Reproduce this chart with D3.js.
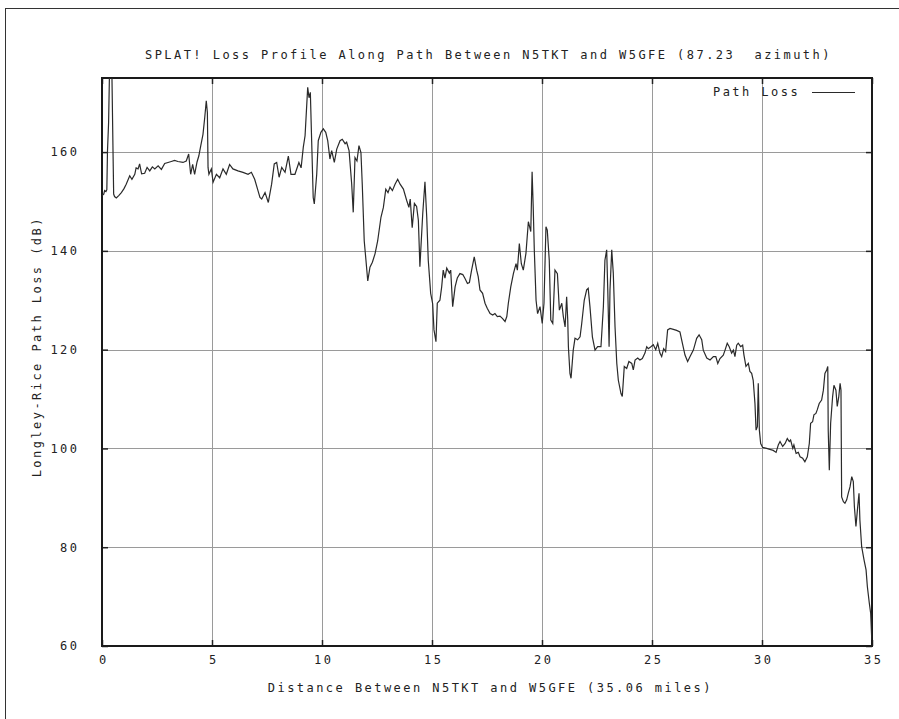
<!DOCTYPE html>
<html>
<head>
<meta charset="utf-8">
<script src="https://cdn.jsdelivr.net/npm/d3@7/dist/d3.min.js"></script>
<style>
  html, body { margin: 0; padding: 0; background: #fff; }
  svg text { font-family: "DejaVu Sans Mono", monospace; font-size: 12px; fill: #222; letter-spacing: 2.45px; white-space: pre; }
</style>
</head>
<body>
<svg id="chart" width="899" height="719"></svg>
<script>
// path loss profile
const distance = [
  0.00, 0.08, 0.12, 0.18, 0.22, 0.25, 0.30, 0.34, 0.40, 0.45, 0.50, 0.53, 0.57, 0.65, 0.76, 0.88,
  1.00, 1.10, 1.26, 1.36, 1.49, 1.55, 1.64, 1.71, 1.80, 1.94, 2.05, 2.17, 2.29, 2.40, 2.55, 2.70,
  2.85, 3.00, 3.15, 3.30, 3.45, 3.68, 3.83, 3.94, 4.03, 4.12, 4.21, 4.32, 4.40, 4.49, 4.59, 4.67,
  4.74, 4.79, 4.82, 4.86, 4.97, 5.05, 5.20, 5.35, 5.50, 5.65, 5.80, 5.95, 6.18, 6.41, 6.64, 6.79,
  6.94, 7.09, 7.18, 7.26, 7.41, 7.56, 7.71, 7.83, 7.94, 8.05, 8.17, 8.32, 8.47, 8.59, 8.77, 8.95,
  9.05, 9.15, 9.23, 9.35, 9.41, 9.47, 9.53, 9.60, 9.65, 9.76, 9.83, 9.95, 10.06, 10.17, 10.26, 10.36,
  10.44, 10.56, 10.67, 10.82, 10.92, 11.05, 11.12, 11.23, 11.35, 11.42, 11.50, 11.59, 11.68, 11.77, 11.83, 11.92,
  12.00, 12.08, 12.18, 12.29, 12.41, 12.53, 12.68, 12.79, 12.90, 13.00, 13.09, 13.20, 13.32, 13.44, 13.55, 13.70,
  13.85, 13.95, 14.01, 14.10, 14.20, 14.30, 14.38, 14.45, 14.58, 14.68, 14.76, 14.83, 14.94, 15.03, 15.09, 15.18,
  15.24, 15.36, 15.44, 15.51, 15.59, 15.67, 15.79, 15.85, 15.94, 16.05, 16.15, 16.27, 16.40, 16.50, 16.61, 16.70,
  16.80, 16.92, 17.03, 17.10, 17.18, 17.30, 17.41, 17.51, 17.64, 17.76, 17.86, 17.97, 18.09, 18.21, 18.32, 18.40,
  18.47, 18.58, 18.70, 18.82, 18.88, 18.97, 19.06, 19.15, 19.27, 19.38, 19.49, 19.55, 19.60, 19.65, 19.73, 19.80,
  19.91, 20.01, 20.09, 20.18, 20.24, 20.33, 20.40, 20.49, 20.59, 20.70, 20.79, 20.90, 20.97, 21.05, 21.12, 21.17,
  21.20, 21.27, 21.32, 21.42, 21.50, 21.62, 21.73, 21.80, 21.92, 22.03, 22.10, 22.18, 22.29, 22.41, 22.53, 22.68,
  22.79, 22.86, 22.94, 22.99, 23.05, 23.09, 23.17, 23.24, 23.32, 23.40, 23.47, 23.59, 23.65, 23.74, 23.85, 23.95,
  24.08, 24.15, 24.23, 24.35, 24.45, 24.56, 24.68, 24.76, 24.83, 24.95, 25.06, 25.17, 25.26, 25.36, 25.44, 25.53,
  25.62, 25.71, 25.82, 25.97, 26.12, 26.27, 26.38, 26.50, 26.62, 26.73, 26.88, 27.03, 27.14, 27.26, 27.33, 27.49,
  27.64, 27.79, 27.90, 27.99, 28.09, 28.24, 28.32, 28.42, 28.51, 28.62, 28.70, 28.77, 28.85, 28.92, 29.03, 29.12,
  29.18, 29.27, 29.38, 29.45, 29.53, 29.60, 29.68, 29.73, 29.79, 29.83, 29.88, 29.94, 30.03, 30.21, 30.36, 30.51,
  30.64, 30.74, 30.82, 30.94, 31.05, 31.15, 31.24, 31.30, 31.40, 31.45, 31.55, 31.65, 31.73, 31.85, 31.95, 32.06,
  32.15, 32.21, 32.30, 32.36, 32.45, 32.51, 32.60, 32.71, 32.79, 32.86, 32.94, 32.99, 33.01, 33.06, 33.12, 33.21,
  33.27, 33.36, 33.42, 33.49, 33.55, 33.59, 33.62, 33.70, 33.77, 33.85, 33.92, 34.00, 34.08, 34.15, 34.20, 34.27,
  34.35, 34.41, 34.45, 34.53, 34.64, 34.73, 34.79, 34.88, 34.94, 34.99
];
const pathLoss = [
  151.2, 151.5, 152.2, 152.0, 152.4, 160.3, 166.0, 176.0, 178.0, 176.0, 160.3, 151.5, 151.0, 150.7, 151.2, 151.8,
  152.6, 153.5, 155.2, 154.5, 155.5, 156.8, 156.6, 157.6, 155.6, 155.7, 156.9, 156.2, 157.0, 156.6, 157.2, 156.5,
  157.7, 157.9, 158.1, 158.3, 158.1, 157.9, 158.2, 159.6, 155.5, 157.5, 155.5, 158.0, 159.2, 161.3, 163.6, 167.0,
  170.4, 168.0, 156.9, 155.5, 156.6, 153.9, 155.5, 154.8, 156.6, 155.5, 157.5, 156.6, 156.2, 155.9, 155.5, 155.9,
  154.5, 152.2, 150.8, 150.5, 151.8, 149.8, 153.5, 157.6, 157.9, 154.9, 156.9, 155.9, 159.2, 155.5, 155.5, 157.9,
  156.8, 161.0, 163.3, 173.1, 171.0, 172.1, 162.3, 150.8, 149.5, 155.5, 162.3, 164.0, 164.7, 164.0, 162.3, 158.6,
  160.3, 157.9, 160.6, 162.3, 162.6, 161.7, 162.0, 160.3, 153.5, 147.8, 158.9, 158.2, 161.3, 159.9, 153.5, 142.0,
  138.0, 133.9, 136.7, 137.7, 139.4, 142.0, 146.8, 148.8, 152.5, 151.8, 152.9, 152.2, 153.5, 154.5, 153.5, 152.5,
  150.2, 148.8, 150.5, 144.7, 149.6, 149.0, 146.2, 136.8, 147.6, 154.0, 146.9, 138.1, 131.4, 129.3, 124.0, 121.6,
  129.4, 130.0, 132.7, 136.1, 134.5, 136.5, 135.5, 136.1, 128.7, 132.7, 134.5, 135.4, 135.2, 134.4, 133.4, 133.6,
  136.1, 138.8, 136.1, 134.8, 132.1, 131.4, 129.4, 128.4, 127.3, 127.0, 127.3, 126.7, 126.8, 126.3, 125.7, 126.7,
  129.4, 132.7, 135.4, 137.4, 136.1, 141.5, 137.4, 136.1, 139.5, 145.9, 143.9, 156.0, 149.0, 140.2, 130.0, 127.3,
  128.7, 125.3, 129.4, 144.9, 144.2, 138.1, 126.0, 125.3, 136.1, 135.4, 128.0, 129.4, 126.7, 124.6, 130.7, 126.0,
  120.6, 115.2, 114.2, 119.9, 122.3, 122.0, 122.6, 125.1, 130.0, 132.1, 132.4, 128.7, 122.6, 119.9, 120.6, 120.6,
  128.7, 138.1, 140.2, 132.0, 120.6, 132.0, 140.2, 135.5, 124.6, 117.2, 113.8, 111.1, 110.5, 116.6, 116.2, 117.6,
  117.2, 115.9, 117.9, 118.3, 117.9, 118.2, 119.3, 120.6, 120.2, 120.6, 121.0, 120.0, 121.3, 119.3, 118.6, 120.2,
  119.6, 124.0, 124.3, 124.1, 123.9, 123.6, 121.3, 118.9, 117.6, 118.6, 119.9, 122.3, 123.0, 122.0, 119.9, 118.3,
  117.9, 118.6, 118.6, 117.2, 118.2, 118.9, 119.9, 121.3, 120.6, 119.3, 119.9, 118.6, 120.9, 121.3, 120.6, 120.9,
  118.9, 116.6, 117.2, 115.6, 115.2, 113.8, 109.1, 103.7, 104.4, 113.2, 103.7, 101.0, 100.2, 100.0, 99.8, 99.6,
  99.2, 100.7, 101.4, 100.4, 101.0, 102.0, 101.4, 101.7, 100.0, 100.7, 99.0, 99.2, 98.3, 98.0, 97.3, 98.3,
  101.0, 105.1, 105.4, 106.8, 107.1, 107.8, 109.1, 109.8, 111.8, 115.2, 115.9, 116.6, 103.7, 95.6, 105.1, 110.5,
  112.8, 111.8, 108.5, 110.5, 113.2, 111.8, 90.2, 89.2, 88.9, 89.6, 90.9, 92.2, 94.3, 93.3, 88.2, 84.2,
  88.2, 90.9, 85.5, 80.1, 77.4, 75.4, 72.0, 68.6, 66.6, 61.2
];
const xTicks = [0, 5, 10, 15, 20, 25, 30, 35];
const yTicks = [60, 80, 100, 120, 140, 160];

const titleText = 'SPLAT! Loss Profile Along Path Between N5TKT and W5GFE (87.23  azimuth)';
const xLabel = 'Distance Between N5TKT and W5GFE (35.06 miles)';
const yLabel = 'Longley-Rice Path Loss (dB)';
const legendLabel = 'Path Loss';

const svg = d3.select('#chart');
const L = 102, R = 872, T = 78, B = 646;
const LS = 2.45;             // letter-spacing
const CHAR_W = 7.22 + LS;    // advance of one glyph incl. letter-spacing
const x = d3.scaleLinear().domain([0, 35]).range([L, R]);
const y = d3.scaleLinear().domain([60, 175]).range([B, T]);

// outer frame (cut off at right and bottom)
svg.append('rect')
  .attr('x', 5.5).attr('y', 8.5).attr('width', 960).attr('height', 760)
  .attr('fill', 'none').attr('stroke', '#333').attr('stroke-width', 1);

// grid
const grid = svg.append('g').attr('stroke', '#9a9a9a').attr('stroke-width', 1);
grid.selectAll('line.gx')
  .data(xTicks.filter(d => d > 0 && d < 35))
  .join('line')
  .attr('x1', d => Math.round(x(d)) + 0.5).attr('x2', d => Math.round(x(d)) + 0.5)
  .attr('y1', T).attr('y2', B);
grid.selectAll('line.gy')
  .data(yTicks.filter(d => d > 60))
  .join('line')
  .attr('class', 'gy')
  .attr('x1', L).attr('x2', R)
  .attr('y1', d => Math.round(y(d)) + 0.5).attr('y2', d => Math.round(y(d)) + 0.5);

// axes: labels from d3 axes, ticks drawn inward
const xAxis = svg.append('g')
  .attr('transform', `translate(0,${B})`)
  .call(d3.axisBottom(x).tickValues(xTicks).tickSize(-6).tickPadding(9).tickFormat(d3.format('d')));
const yAxis = svg.append('g')
  .attr('transform', `translate(${L},0)`)
  .call(d3.axisLeft(y).tickValues(yTicks).tickSize(-6).tickPadding(25).tickFormat(d3.format('d')));
// mirrored ticks on top and right
svg.append('g').attr('transform', `translate(0,${T})`)
  .call(d3.axisTop(x).tickValues(xTicks).tickSize(-6).tickFormat(''));
svg.append('g').attr('transform', `translate(${R},0)`)
  .call(d3.axisRight(y).tickValues(yTicks).tickSize(-6).tickFormat(''));
svg.selectAll('.domain').remove();
svg.selectAll('.tick line').attr('stroke', '#222').attr('stroke-width', 1.5);
xAxis.selectAll('text').attr('dx', LS / 2);
yAxis.selectAll('text').attr('dx', LS);

// plot border
svg.append('rect')
  .attr('x', L).attr('y', T).attr('width', R - L).attr('height', B - T)
  .attr('fill', 'none').attr('stroke', '#1a1a1a').attr('stroke-width', 2);

// data line
svg.append('clipPath').attr('id', 'plotClip')
  .append('rect').attr('x', L).attr('y', T).attr('width', R - L).attr('height', B - T);
const rows = distance.map((d, i) => ({ d, v: pathLoss[i] }));
const line = d3.line().x(p => x(p.d)).y(p => y(p.v));
svg.append('path')
  .datum(rows)
  .attr('clip-path', 'url(#plotClip)')
  .attr('d', line)
  .attr('fill', 'none')
  .attr('stroke', '#2a2a2a')
  .attr('stroke-width', 1.2)
  .attr('stroke-linejoin', 'miter');

// legend
svg.append('text').attr('x', 713).attr('y', 96).text(legendLabel);
svg.append('line')
  .attr('x1', 812).attr('x2', 855).attr('y1', 92.5).attr('y2', 92.5)
  .attr('stroke', '#2a2a2a').attr('stroke-width', 1.2);

// titles
svg.append('text').attr('x', 145).attr('y', 59).text(titleText);
svg.append('text')
  .attr('x', 489 - (xLabel.length * CHAR_W - LS) / 2).attr('y', 692)
  .text(xLabel);
svg.append('text')
  .attr('transform', `translate(41,${348 + (yLabel.length * CHAR_W - LS) / 2}) rotate(-90)`)
  .text(yLabel);
</script>
</body>
</html>
